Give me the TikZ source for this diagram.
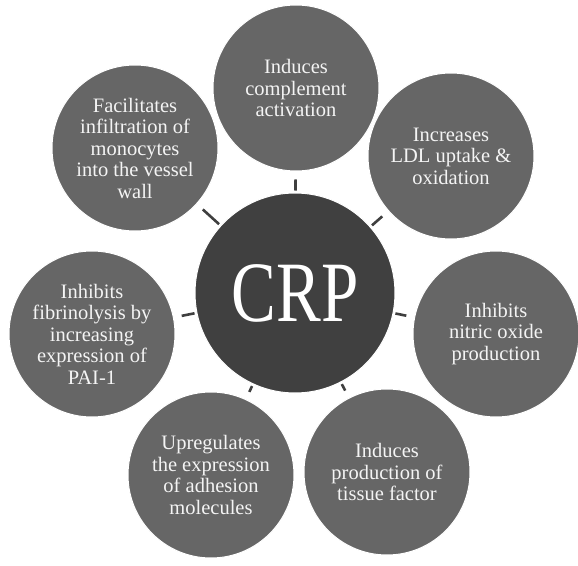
\documentclass[tikz,border=0pt]{standalone}
\usepackage{fontspec}
\setmainfont{Liberation Serif}
\usepackage{tikz}
\usetikzlibrary{positioning}
\usepackage{xcolor}
\definecolor{hubgray}{HTML}{404040}
\definecolor{petalgray}{HTML}{666666}
\definecolor{tickgray}{HTML}{3F3F3F}
\definecolor{textwhite}{HTML}{F4F4F4}

\begin{document}
\begin{tikzpicture}[x=1pt, y=1pt, hub/.style={circle,fill=hubgray,draw=white,line width=1pt,minimum size=200pt,inner sep=0pt,text=white,font=\fontsize{86}{86}\selectfont}, petal/.style={circle,fill=petalgray,draw=white,line width=1pt,minimum size=166pt,inner sep=0pt,align=center,text=textwhite,font=\fontsize{20.5}{21.5}\selectfont}, tick/.style={line width=2.6pt,draw=tickgray,shorten <=2pt,shorten >=8pt}]
\useasboundingbox (-295,-272) rectangle (283,293);
\node[hub] (crp) at (0,0) {\scalebox{0.78}[1]{CRP}};
\node[petal] (complement) at (1,205) {Induces\\complement\\activation};
\node[petal] (ldl) at (156,137) {Increases\\LDL uptake \&\\oxidation};
\node[petal] (nitric) at (201,-41) {Inhibits\\nitric oxide\\production};
\node[petal] (tissue) at (92,-179) {Induces\\production of\\tissue factor};
\node[petal] (adhesion) at (-84,-182) {Upregulates\\the expression\\of adhesion\\molecules};
\node[petal] (fibrin) at (-203,-41) {Inhibits\\fibrinolysis by\\increasing\\expression of\\PAI-1};
\node[petal] (monocyte) at (-160,145) {Facilitates\\infiltration of\\monocytes\\into the vessel\\wall};
\draw[tick] (crp) -- (complement);
\draw[tick] (crp) -- (ldl);
\draw[tick] (crp) -- (nitric);
\draw[tick] (crp) -- (tissue);
\draw[tick] (crp) -- (adhesion);
\draw[tick] (crp) -- (fibrin);
\draw[tick] (crp) -- (monocyte);
\end{tikzpicture}
\end{document}
